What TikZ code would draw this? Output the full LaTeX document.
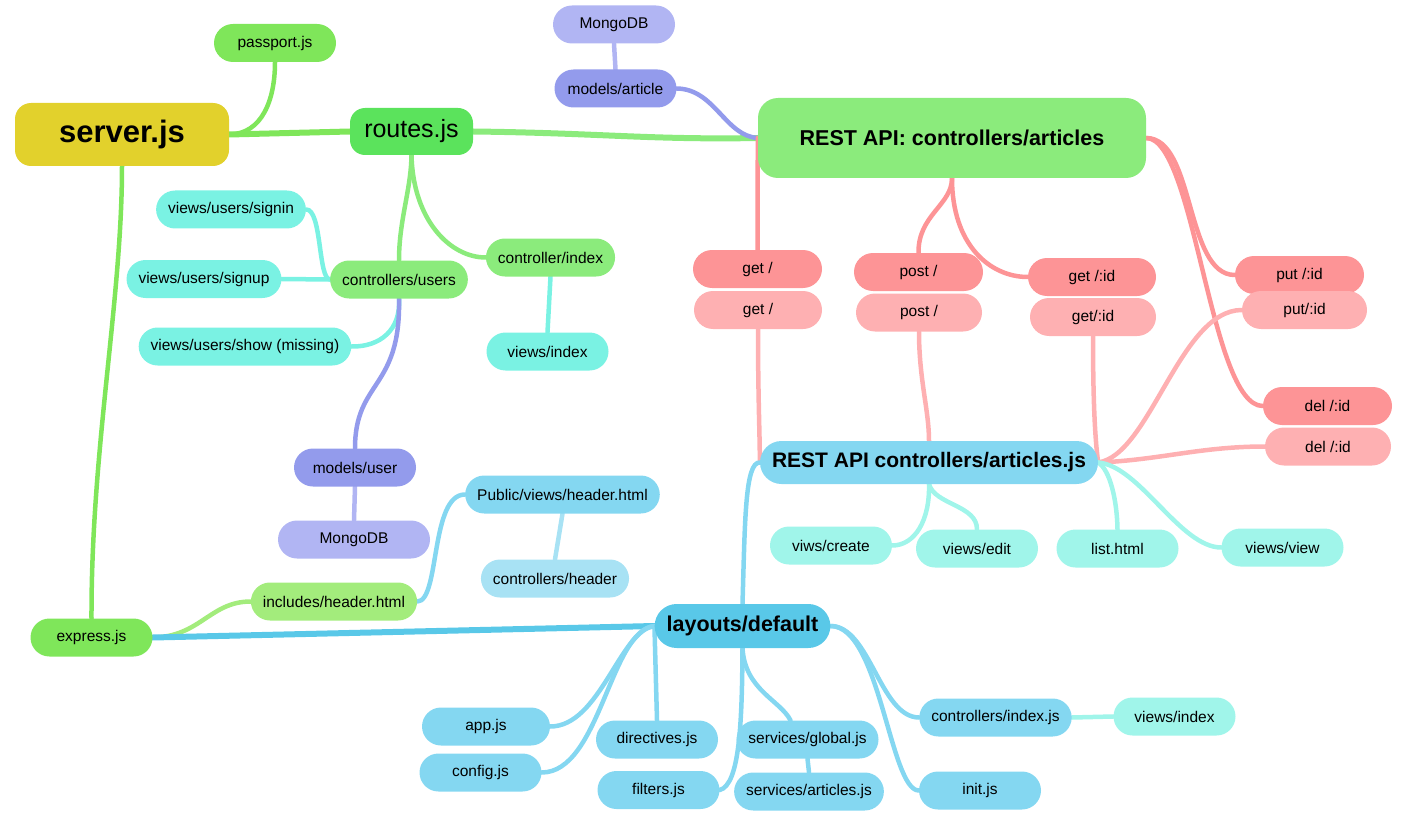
\documentclass[tikz,border=0pt]{standalone}
\usepackage{fontspec}
\setmainfont{Liberation Sans}
\usetikzlibrary{backgrounds}

\definecolor{c_yellow}{HTML}{E2D12C}
\definecolor{c_green}{HTML}{7FE65A}
\definecolor{c_route}{HTML}{5BE35C}
\definecolor{c_lgreen}{HTML}{8BEB7C}
\definecolor{c_pgreen}{HTML}{A3EC7C}
\definecolor{c_cyan}{HTML}{7AF2E3}
\definecolor{c_aqua}{HTML}{A0F5EA}
\definecolor{c_lav}{HTML}{939BEC}
\definecolor{c_plav}{HTML}{B1B5F3}
\definecolor{c_pink}{HTML}{FD9496}
\definecolor{c_ppink}{HTML}{FEB0B2}
\definecolor{c_blue}{HTML}{84D7F1}
\definecolor{c_pblue}{HTML}{A8E2F4}
\definecolor{c_dblue}{HTML}{59C8E8}

\tikzset{
        mapnode/.style={align=center,inner sep=0pt,inner xsep=12pt,text=black},
        % Ordinary pill nodes
        node_pill/.style={mapnode, rounded corners=19pt, minimum height=38pt, minimum width=122pt, font=\fontsize{15.5}{18}\selectfont},
        % Root file
        node_root/.style={mapnode, rounded corners=16pt, fill=c_yellow, minimum width=214pt, minimum height=63pt, font=\fontsize{31}{36}\selectfont\bfseries},
        % Second level files
        node_big/.style={mapnode, rounded corners=15pt, minimum height=47pt, font=\fontsize{25}{30}\selectfont},
        % Controllers and layouts
        node_head/.style={mapnode, font=\fontsize{21.5}{25}\selectfont\bfseries},
        % Connectors
        link/.style={line width=4.5pt, line cap=round},
        link_main/.style={line width=6pt, line cap=round}
}

\begin{document}
\begin{tikzpicture}[x=1pt, y=-1pt]
    \useasboundingbox (0,0) rectangle (1408,821);

    % server side
    \node[node_root] (server) at (122,134.5) {server.js};
    \node[node_pill, fill=c_green] (passport) at (275,43) {passport.js};
    \node[node_big, fill=c_route, minimum width=123pt] (routes) at (411.5,131.5) {routes.js};
    \node[node_pill, fill=c_green] (express) at (91.5,637.5) {express.js};
    \node[node_pill, fill=c_pgreen] (includes) at (334,601.5) {includes/header.html};
    \node[node_pill, fill=c_blue] (public) at (562.5,494.5) {Public/views/header.html};
    \node[node_pill, fill=c_pblue] (cheader) at (555,578.5) {controllers/header};

    % users
    \node[node_pill, fill=c_lgreen] (cusers) at (399,279.5) {controllers/users};
    \node[node_pill, fill=c_cyan] (signin) at (231,209.5) {views/users/signin};
    \node[node_pill, fill=c_cyan] (signup) at (204,279) {views/users/signup};
    \node[node_pill, fill=c_cyan] (show) at (245,346.5) {views/users/show (missing)};
    \node[node_pill, fill=c_lav] (muser) at (355,467.5) {models/user};
    \node[node_pill, fill=c_plav, minimum width=152pt] (mongo_b) at (354,539.5) {MongoDB};
    \node[node_pill, fill=c_lgreen] (cidx) at (550.5,257.5) {controller/index};
    \node[node_pill, fill=c_cyan] (vidx) at (547.5,351.5) {views/index};

    % articles api
    \node[node_head, fill=c_lgreen, rounded corners=20pt, minimum width=388pt, minimum height=80pt] (api) at (952,138) {REST API: controllers/articles};
    \node[node_pill, fill=c_plav] (mongo_a) at (614,24.5) {MongoDB};
    \node[node_pill, fill=c_lav] (marticle) at (615.5,88.5) {models/article};
    \node[node_pill, fill=c_pink, minimum width=129pt] (get_a) at (757.5,269) {get /};
    \node[node_pill, fill=c_ppink, minimum width=128pt] (get_b) at (758,310) {get /};
    \node[node_pill, fill=c_pink, minimum width=129pt] (post_a) at (918.5,272) {post /};
    \node[node_pill, fill=c_ppink, minimum width=126pt] (post_b) at (919,312.5) {post /};
    \node[node_pill, fill=c_pink, minimum width=128pt] (getid_a) at (1092,277) {get /:id};
    \node[node_pill, fill=c_ppink, minimum width=126pt] (getid_b) at (1093,317) {get/:id};
    \node[node_pill, fill=c_pink, minimum width=129pt] (put_a) at (1299.5,275) {put /:id};
    \node[node_pill, fill=c_ppink, minimum width=125pt] (put_b) at (1304.5,310) {put/:id};
    \node[node_pill, fill=c_pink, minimum width=129pt] (del_a) at (1327.5,406) {del /:id};
    \node[node_pill, fill=c_ppink, minimum width=126pt] (del_b) at (1328,446.5) {del /:id};

    % angular side
    \node[node_head, fill=c_blue, rounded corners=21.5pt, minimum width=338pt, minimum height=43pt, inner xsep=6pt, font=\fontsize{21}{25}\selectfont\bfseries] (apijs) at (929,462.5) {REST API controllers/articles.js};
    \node[node_pill, fill=c_aqua] (create) at (831,545.5) {viws/create};
    \node[node_pill, fill=c_aqua] (edit) at (977,548.5) {views/edit};
    \node[node_pill, fill=c_aqua] (list) at (1117.5,548.5) {list.html};
    \node[node_pill, fill=c_aqua] (view) at (1282.5,547.5) {views/view};
    \node[node_head, fill=c_dblue, rounded corners=22pt, minimum width=175pt, minimum height=44pt] (layout) at (742.5,626) {layouts/default};
    \node[node_pill, fill=c_blue, minimum width=128pt] (app) at (486,726.5) {app.js};
    \node[node_pill, fill=c_blue] (config) at (480.5,772.5) {config.js};
    \node[node_pill, fill=c_blue] (directives) at (657,739.5) {directives.js};
    \node[node_pill, fill=c_blue] (filters) at (658.5,790) {filters.js};
    \node[node_pill, fill=c_blue] (sglobal) at (807.5,739.5) {services/global.js};
    \node[node_pill, fill=c_blue] (sarticles) at (809,791.5) {services/articles.js};
    \node[node_pill, fill=c_blue] (cindex) at (995.5,717.5) {controllers/index.js};
    \node[node_pill, fill=c_aqua] (vindex) at (1174.5,716.5) {views/index};
    \node[node_pill, fill=c_blue] (init) at (980,790.5) {init.js};

    \begin{pgfonlayer}{background}
        % server.js
        \draw[link, c_green] (server.east) .. controls (262,134) and (275,100) .. (passport.south);
        \draw[link_main, c_green] (server.east) -- (routes.west);
        \draw[link, c_green] (server.south) .. controls (122,300) and (91,450) .. (express.north);
        % routes.js
        \draw[link_main, c_lgreen] (routes.east) .. controls (600,133) and (650,140) .. (api.west);
        \draw[link, c_lgreen] (routes.south) .. controls (411,190) and (399,220) .. (cusers.north);
        \draw[link, c_lgreen] (routes.south) .. controls (413,220) and (450,257.5) .. (cidx.west);
        \draw[link, c_cyan] (signin.east) .. controls (322,209) and (318,279) .. (cusers.west);
        \draw[link, c_cyan] (signup.east) -- (cusers.west);
        \draw[link, c_cyan] (cusers.south) .. controls (401,330) and (380,347) .. (show.east);
        \draw[link, c_lav] (cusers.south) .. controls (401,390) and (355,380) .. (muser.north);
        \draw[link, c_plav] (muser.south) -- (mongo_b.north);
        \draw[link, c_cyan] (cidx.south) -- (vidx.north);
        % controllers/articles
        \draw[link, c_plav] (mongo_a.south) -- (marticle.north);
        \draw[link, c_lav] (marticle.east) .. controls (715,89) and (725,136) .. (api.west);
        \draw[link, c_pink] (api.west) -- (get_a.north);
        \draw[link, c_pink] (api.south) .. controls (952,205) and (918,215) .. (post_a.north);
        \draw[link, c_pink] (api.south) .. controls (952,245) and (990,277) .. (getid_a.west);
        \draw[link, c_pink] (api.east) .. controls (1195,138) and (1185,275) .. (put_a.west);
        \draw[link, c_pink] (api.east) .. controls (1195,138) and (1210,406) .. (del_a.west);
        % controllers/articles.js
        \draw[link, c_ppink] (get_b.south) .. controls (758,400) and (760,440) .. (apijs.west);
        \draw[link, c_ppink] (post_b.south) .. controls (919,380) and (929,410) .. (apijs.north);
        \draw[link, c_ppink] (getid_b.south) .. controls (1093,400) and (1095,440) .. (apijs.east);
        \draw[link, c_ppink] (apijs.east) .. controls (1150,455) and (1180,310) .. (put_b.west);
        \draw[link, c_ppink] (apijs.east) .. controls (1160,460) and (1200,446.5) .. (del_b.west);
        \draw[link, c_aqua] (apijs.south) .. controls (930,520) and (915,545.5) .. (create.east);
        \draw[link, c_aqua] (apijs.south) .. controls (935,505) and (977,505) .. (edit.north);
        \draw[link, c_aqua] (apijs.east) .. controls (1110,470) and (1117,500) .. (list.north);
        \draw[link, c_aqua] (apijs.east) .. controls (1140,466) and (1180,547.5) .. (view.west);
        % layouts/default
        \draw[link, c_blue] (layout.north) .. controls (745,520) and (745,462) .. (apijs.west);
        \draw[link, c_pgreen] (express.east) .. controls (200,637) and (210,601.5) .. (includes.west);
        \draw[link_main, c_dblue] (express.east) -- (layout.west);
        \draw[link, c_blue] (includes.east) .. controls (440,601.5) and (430,494.5) .. (public.west);
        \draw[link, c_pblue] (public.south) -- (cheader.north);
        \draw[link, c_blue] (layout.west) .. controls (620,630) and (600,726.5) .. (app.east);
        \draw[link, c_blue] (layout.west) .. controls (610,630) and (600,772.5) .. (config.east);
        \draw[link, c_blue] (layout.west) -- (directives.north);
        \draw[link, c_blue] (layout.south) .. controls (742,720) and (740,785) .. (filters.east);
        \draw[link, c_blue] (layout.south) .. controls (745,690) and (780,700) .. ([xshift=-17pt]sglobal.north);
        \draw[link, c_blue] (sglobal.south) -- (sarticles.north);
        \draw[link, c_blue] (layout.east) .. controls (870,626) and (880,717.5) .. (cindex.west);
        \draw[link, c_blue] (layout.east) .. controls (880,626) and (890,790.5) .. (init.west);
        \draw[link, c_aqua] (cindex.east) -- (vindex.west);
    \end{pgfonlayer}
\end{tikzpicture}
\end{document}
